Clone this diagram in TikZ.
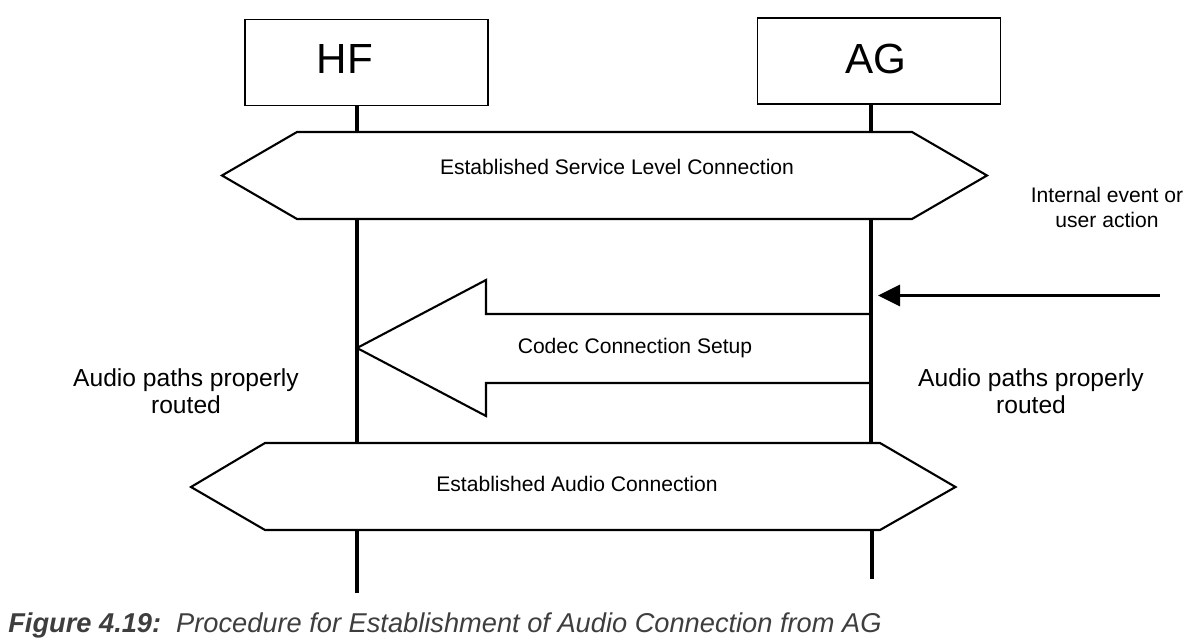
\documentclass[tikz,border=0pt]{standalone}
\usepackage{fontspec}
\setmainfont{Liberation Sans}
\usepackage{tikz}
\usetikzlibrary{arrows.meta,positioning}

\definecolor{capgray}{RGB}{62,62,62}

\tikzset{
    entity/.style={draw, line width=0.75pt, minimum width=4.86cm, minimum height=1.72cm, inner sep=0pt},
    entitytext/.style={font=\fontsize{24}{28}\selectfont},
    lifeline/.style={line width=1.85pt},
    phase/.style={line width=1.2pt, line join=miter},
    phasetext/.style={font=\fontsize{12}{14}\selectfont},
    note/.style={font=\fontsize{14}{15.5}\selectfont, align=center},
    smallnote/.style={font=\fontsize{12}{14.2}\selectfont, align=center},
}

\begin{document}
\begin{tikzpicture}[x=0.02cm, y=-0.02cm]
            \useasboundingbox (0,0) rectangle (1191,641);

            % entities
            \node[entity] (hf) at (366.5,62.5) {};
            \node[entity] (ag) at (879,61) {};
            \node[entitytext] (hflabel) at (345,59) {HF};
            \node[entitytext] (aglabel) at (876,59) {AG};

            \coordinate (hfx) at (357,0);
            \coordinate (agx) at (871,0);
            \coordinate (slcT) at (0,132);
            \coordinate (slcB) at (0,219);
            \coordinate (acT) at (0,443);
            \coordinate (acB) at (0,530);
            \coordinate (hfend) at (357,593);
            \coordinate (agend) at (872,579);

            % lifelines
            \draw[lifeline] (hf.south -| hfx) -- (slcT -| hfx)
                (slcB -| hfx) -- (acT -| hfx)
                (acB -| hfx) -- (hfend);
            \draw[lifeline] (ag.south -| agx) -- (slcT -| agx)
                (slcB -| agx) -- (acT -| agx)
                (agend |- acB) -- (agend);

            % service level connection
            \draw[phase, fill=white] (222,175.5)
                -- (297,132)
                -- (912,132)
                -- (987,175.5)
                -- (912,219)
                -- (297,219)
                -- cycle;
            \node[phasetext] (slc) at (617,167) {Established Service Level Connection};

            % codec connection setup
            \draw[phase] (871,314)
                -- (486,314)
                -- (486,280)
                -- (357,348)
                -- (486,416)
                -- (486,383)
                -- (871,383);
            \node[phasetext] (codec) at (635,348) {Codec Connection Setup};

            % trigger
            \coordinate (trigger) at (1160,295.5);
            \draw[lifeline, -{Triangle[length=0.44cm, width=0.42cm]}] (trigger) -- (878,295.5);
            \node[smallnote] (event) at (1107,207) {Internal event or\\user action};

            \node[note] (hfroute) at (186,391) {Audio paths properly\\routed};
            \node[note] (agroute) at (1031,391) {Audio paths properly\\routed};

            % audio connection
            \draw[phase, fill=white] (191,487)
                -- (265,443)
                -- (880,443)
                -- (955.5,487)
                -- (880,530)
                -- (265,530)
                -- cycle;
            \node[phasetext] (ac) at (577,484) {Established Audio Connection};

            % caption
            \node[anchor=base west, inner sep=0pt, text=capgray, font=\fontsize{15.5}{18}\selectfont\itshape] (caption) at (8,633)
                {\textbf{Figure 4.19:}\hspace{0.55em}Procedure for Establishment of Audio Connection from AG};
        \end{tikzpicture}
\end{document}
